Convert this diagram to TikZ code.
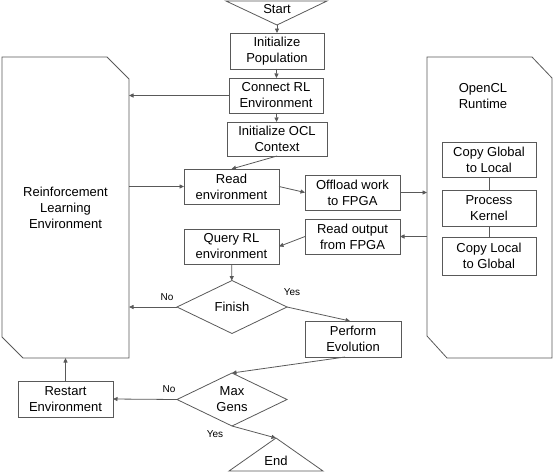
\documentclass[tikz,border=0pt]{standalone}
\usepackage{fontspec}
\setmainfont{Liberation Sans}
\usetikzlibrary{shapes.geometric,arrows.meta}
\definecolor{linegray}{HTML}{595959}

\begin{document}
\begin{tikzpicture}[x=1pt,y=-1pt,line width=0.8pt,
  every node/.style={font=\fontsize{13}{16}\selectfont,align=center,outer sep=0pt},
  box/.style={draw=linegray,minimum width=95pt,minimum height=35pt,inner sep=1pt},
  decision/.style={draw=linegray,diamond,aspect=2,inner sep=0pt,minimum width=110pt,minimum height=53pt},
  flow/.style={draw=linegray,-{Triangle[length=4.5pt,width=4pt]}},
  link/.style={draw=linegray},
  yesno/.style={font=\fontsize{10}{12}\selectfont}]
  \useasboundingbox (0,0) rectangle (554,472);

  \node[minimum width=127pt,minimum height=301pt] (rlenv) at (65.5,207.5) {Reinforcement\\Learning\\Environment};
  \node[minimum width=125pt,minimum height=301pt] (oclrt) at (489.5,207.5) {};
  \node (ocltitle) at (483,96) {OpenCL\\Runtime};
  \draw[link] (rlenv.north west) -- ([xshift=-22pt]rlenv.north east) -- ([yshift=-22pt]rlenv.north east)
    -- (rlenv.south east) -- ([xshift=21pt]rlenv.south west) -- ([yshift=21pt]rlenv.south west) -- cycle;
  \draw[link] (oclrt.north west) -- ([xshift=-20pt]oclrt.north east) -- ([yshift=-21pt]oclrt.north east)
    -- (oclrt.south east) -- ([xshift=20pt]oclrt.south west) -- ([yshift=22pt]oclrt.south west) -- cycle;

  \coordinate (startapex) at (277,25);
  \draw[link] (226,1) -- (327,1) -- (startapex) -- cycle;
  \node (startlbl) at (277,9) {Start};
  \coordinate (endapex) at (276,438);
  \draw[link] (endapex) -- (323,471) -- (229,471) -- cycle;
  \node (endlbl) at (276,461) {End};

  \node[box,minimum width=94pt,minimum height=36pt] (initpop) at (277,51) {Initialize\\Population};
  \node[box,minimum width=94pt] (connrl) at (276,95.5) {Connect RL\\Environment};
  \node[box,minimum width=100pt,minimum height=34pt] (initocl) at (277,139) {Initialize OCL\\Context};
  \node[box] (readenv) at (231.5,186.5) {Read\\environment};
  \node[box] (offload) at (352.5,192.5) {Offload work\\to FPGA};
  \node[box] (readout) at (352.5,236.5) {Read output\\from FPGA};
  \node[box] (query) at (231.5,246.5) {Query RL\\environment};
  \node[decision] (finish) at (232,307) {Finish};
  \node[box,minimum width=96pt,minimum height=36pt] (perform) at (353,339) {Perform\\Evolution};
  \node[decision] (maxgens) at (232,399.5) {Max\\Gens};
  \node[box,minimum height=36pt] (restart) at (65.5,399) {Restart\\Environment};

  \node[box,minimum width=94pt] (copyg) at (489,159.5) {Copy Global\\to Local};
  \node[box,minimum width=94pt,minimum height=36pt] (kernel) at (489,208) {Process\\Kernel};
  \node[box,minimum width=94pt,minimum height=38pt] (copyl) at (489,256) {Copy Local\\to Global};
  \draw[link] (copyg) -- (kernel);
  \draw[link] (kernel) -- (copyl);

  \draw[flow] (startapex) -- (initpop.north);
  \draw[flow] (initpop) -- (connrl);
  \draw[flow] (connrl.west) -- (connrl.west -| rlenv.east);
  \draw[flow] (connrl) -- (initocl);
  \draw[flow] (initocl.south) -- (readenv.north);
  \draw[flow] (readenv.west -| rlenv.east) -- (readenv.west);
  \draw[flow] (readenv.east) -- (offload.west);
  \draw[flow] (offload.east) -- (offload.east -| oclrt.west);
  \draw[flow] (readout.east -| oclrt.west) -- (readout.east);
  \draw[flow] (readout.west) -- (query.east);
  \draw[flow] (query) -- (finish);
  \draw[flow] (finish.west) -- (finish.west -| rlenv.east);
  \draw[flow] (finish.east) -- ([xshift=-3pt]perform.north);
  \draw[flow] ([xshift=-8pt]perform.south) -- (maxgens.north);
  \draw[flow] (maxgens.west) -- (restart.east);
  \draw[flow] (restart.north) -- (restart.north |- rlenv.south);
  \draw[flow] (maxgens.south) -- (endapex);

  \node[yesno] (finishno) at (167,297) {No};
  \node[yesno] (finishyes) at (292,292) {Yes};
  \node[yesno] (maxno) at (169,389) {No};
  \node[yesno] (maxyes) at (215,434) {Yes};
\end{tikzpicture}
\end{document}
